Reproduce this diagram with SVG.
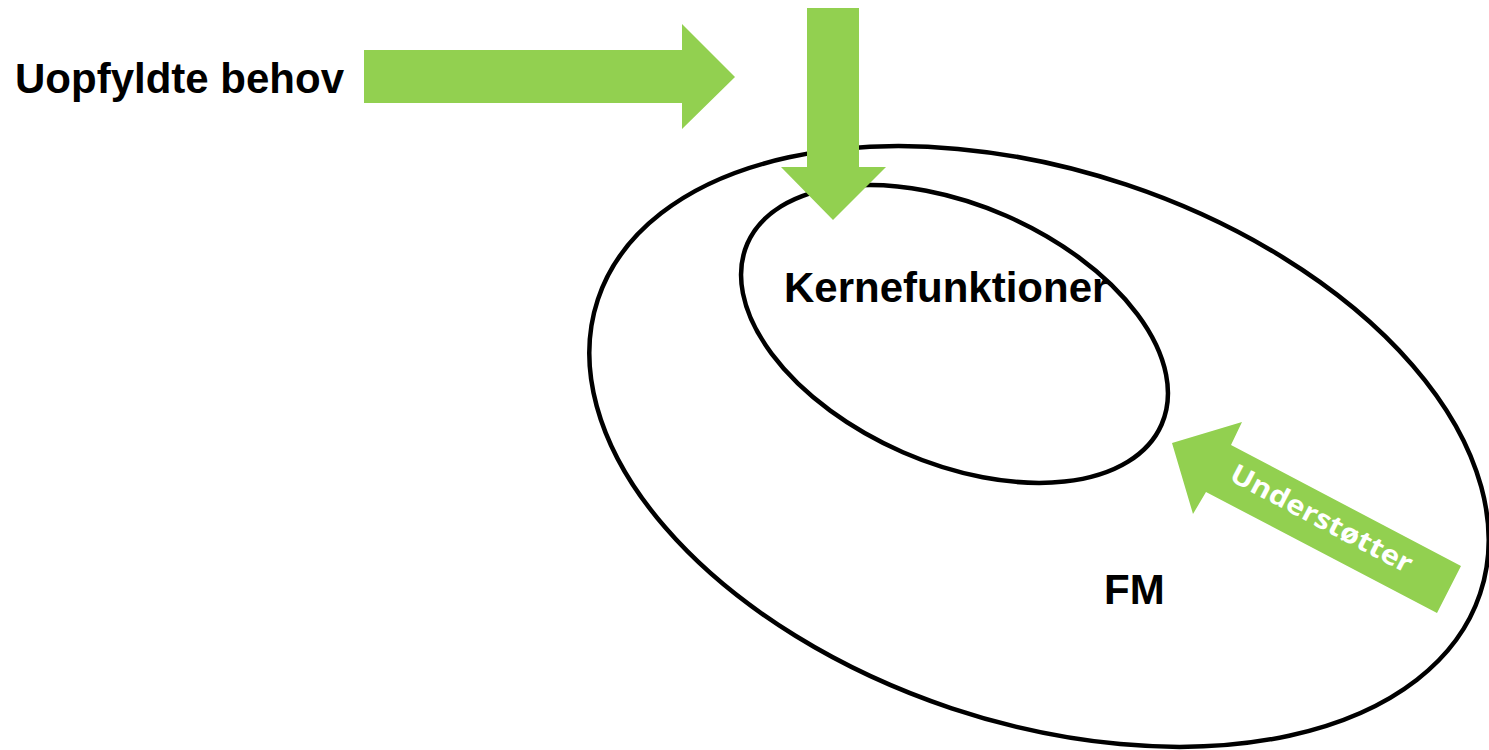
<svg xmlns="http://www.w3.org/2000/svg" width="1489" height="750" viewBox="0 0 1489 750">
<style>
.ring{fill:none;stroke:#000;stroke-width:4.5}
.arrow{fill:#92D050}
.lbl{font-family:"Liberation Sans",Arial,sans-serif;font-weight:bold;font-size:42px;fill:#000}
.wlbl{font-family:"Open Sans","DejaVu Sans",sans-serif;font-weight:bold;font-size:27px;fill:#fff}
</style>
<rect width="1489" height="750" fill="#fff"/>
<g id="fm">
<ellipse class="ring" cx="1039" cy="446.5" rx="465" ry="276" transform="rotate(18.45 1039 446.5)"/>
<text class="lbl" x="1104" y="604">FM</text>
</g>
<g id="kernefunktioner">
<ellipse class="ring" cx="954.5" cy="334" rx="226" ry="129" transform="rotate(23.6 954.5 334)"/>
<text class="lbl" x="784" y="302">Kernefunktioner</text>
</g>
<g id="uopfyldte-behov">
<text class="lbl" x="15" y="93">Uopfyldte behov</text>
</g>
<g id="connectors">
<polygon class="arrow" points="364,50 682,50 682,24 735,77 682,129 682,103 364,103"/>
<polygon class="arrow" points="807,8 859,8 859,167 886,167 833,220 781,167 807,167"/>
<polygon class="arrow" points="1172,443 1242,422 1231,445 1461,566 1437,613 1206,492 1193,514"/>
<text class="wlbl" text-anchor="middle" transform="translate(1322 518) rotate(27.75)" y="10" textLength="202" lengthAdjust="spacingAndGlyphs">Understøtter</text>
</g>
</svg>
